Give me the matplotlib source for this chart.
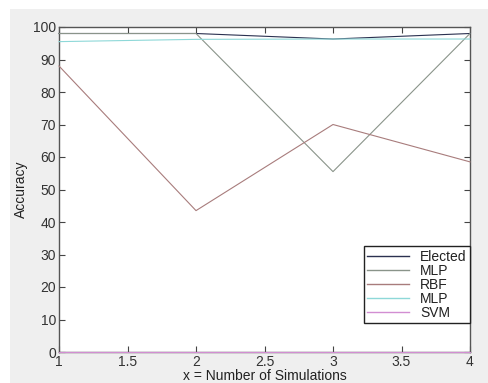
import matplotlib
matplotlib.use("Agg")
import matplotlib.pyplot as plt
from matplotlib.patches import Rectangle

# simulation number
x = [1, 2, 3, 4]

# accuracy per classifier
elected = [98, 98, 96.3, 98]
mlp = [98, 98, 55.5, 98]
rbf = [88, 43.5, 70, 58.5]
mlp2 = [95.5, 96.2, 96.3, 96.3]
svm = [0, 0, 0, 0]

labels = ["Elected", "MLP", "RBF", "MLP", "SVM"]
colors = ["#2b3150", "#8a948a", "#a87c7c", "#8ed8d8", "#d28ed2"]

plt.rcParams['font.family'] = ['Liberation Sans', 'DejaVu Sans']

fig = plt.figure(figsize=(4.88, 3.83), dpi=100, facecolor="white")
fig.patches.append(Rectangle((10 / 488, 0), 1, (383 - 9) / 383,
                             transform=fig.transFigure, facecolor="#efefef",
                             edgecolor="none", zorder=-10))

ax = fig.add_axes([59 / 488, 31 / 383, 411 / 488, 325 / 383])
for y, lab, c in zip([elected, mlp, rbf, mlp2, svm], labels, colors):
    ax.plot(x, y, color=c, lw=0.8, label=lab, clip_on=False, zorder=3)

ax.set_xlim(1, 4)
ax.set_ylim(0, 100)
ax.set_xticks([1, 1.5, 2, 2.5, 3, 3.5, 4])
ax.set_xticklabels(["1", "1.5", "2", "2.5", "3", "3.5", "4"])
ax.set_yticks(range(0, 101, 10))
ax.tick_params(direction="in", top=True, right=True, length=4,
               labelsize=10, colors="#444444", labelcolor="#333333", pad=2)
for s in ax.spines.values():
    s.set_color("#555555")
    s.set_linewidth(1.0)

ax.set_xlabel("x = Number of Simulations", fontsize=10, color="#222222", labelpad=0)
ax.set_ylabel("Accuracy", fontsize=10, color="#222222", labelpad=4)

leg = ax.legend(loc="lower right", bbox_to_anchor=(1.0, 0.089), fontsize=10,
                fancybox=False, framealpha=1, edgecolor="#222222",
                handlelength=3.0, labelspacing=0.0, borderpad=0.25,
                handletextpad=0.8, borderaxespad=0.0)
leg.get_frame().set_linewidth(1.0)
leg.set_zorder(5)
for line in leg.get_lines():
    line.set_linewidth(1.0)
for t in leg.get_texts():
    t.set_color("#222222")

fig.savefig("out.png", dpi=100, facecolor=fig.get_facecolor())
